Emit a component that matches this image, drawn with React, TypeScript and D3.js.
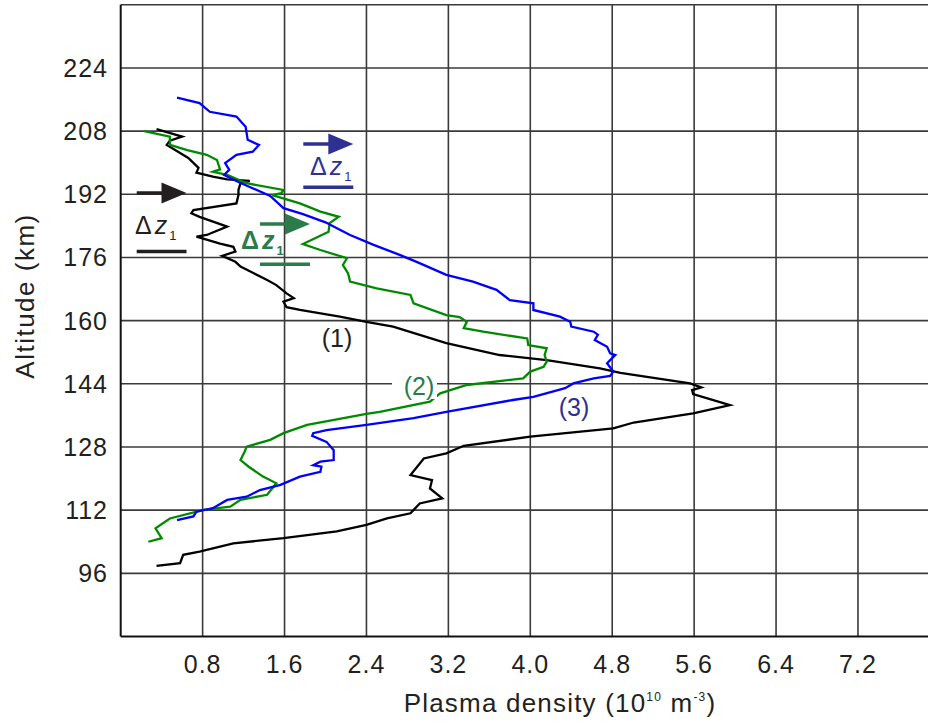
import React from "react";
import * as d3 from "d3";

// Altitude profiles of plasma density: [density (1e10 m^-3), altitude (km)]
const profile1: [number, number][] = [
  [0.35, 208.5], [0.6, 206.6], [0.48, 205.6], [0.45, 204.5], [0.66, 201.2], [0.76, 198.7],
  [0.74, 197.5], [0.9, 196.5], [1.04, 195.8], [1.26, 195.4], [1.17, 194.8], [1.15, 193.1],
  [1.15, 191.8], [1.13, 189.7], [0.71, 188.0], [0.69, 187.2], [0.77, 186.3], [1.04, 183.8],
  [0.84, 181.7], [0.74, 181.3], [0.97, 179.5], [1.1, 178.7], [1.12, 177.5], [0.99, 176.4],
  [1.12, 174.9], [1.17, 173.7], [1.3, 172.0], [1.43, 170.3], [1.52, 169.0], [1.62, 166.9],
  [1.69, 165.7], [1.59, 164.8], [1.62, 163.4], [1.75, 162.7], [2.14, 161.0], [2.4, 159.7],
  [2.66, 158.5], [3.18, 154.3], [3.7, 151.3], [4.16, 150.0], [4.68, 147.9], [4.88, 146.8],
  [5.56, 144.1], [5.67, 143.1], [5.58, 142.4], [5.59, 141.4], [5.95, 138.6], [5.59, 136.5],
  [5.01, 134.2], [4.81, 132.7], [4.0, 130.6], [3.35, 128.3], [3.18, 126.4], [2.96, 125.1],
  [2.83, 120.9], [3.04, 119.6], [3.02, 117.5], [3.14, 115.0], [2.92, 113.7], [2.83, 111.2],
  [2.6, 109.9], [2.4, 108.3], [2.11, 106.6], [1.59, 104.9], [1.1, 103.6], [0.77, 101.5],
  [0.61, 100.7], [0.58, 98.6], [0.35, 97.9],
];

const profile2: [number, number][] = [
  [0.23, 208.0], [0.48, 206.6], [0.48, 204.5], [0.65, 203.2], [0.84, 202.0], [0.94, 200.7],
  [0.97, 198.3], [0.9, 197.7], [1.04, 196.9], [1.23, 194.8], [1.59, 193.1], [1.57, 192.3],
  [1.48, 191.8], [1.75, 189.7], [1.95, 187.6], [2.13, 186.3], [2.04, 184.7], [2.03, 182.5],
  [1.78, 179.4], [1.95, 177.9], [2.21, 175.8], [2.17, 174.1], [2.22, 172.0], [2.24, 169.9],
  [2.5, 168.2], [2.83, 166.5], [2.86, 164.4], [3.18, 161.4], [3.31, 160.9], [3.38, 159.7],
  [3.35, 158.1], [3.54, 157.2], [3.97, 155.5], [3.98, 153.8], [4.16, 153.0], [4.14, 151.3],
  [4.16, 149.6], [4.13, 148.3], [4.0, 147.1], [3.93, 145.4], [3.38, 143.7], [3.12, 141.6],
  [3.02, 139.5], [2.53, 136.9], [2.4, 136.4], [1.82, 133.6], [1.59, 131.5], [1.46, 129.8],
  [1.23, 128.1], [1.21, 126.8], [1.17, 124.7], [1.25, 123.0], [1.39, 120.5], [1.52, 118.8],
  [1.43, 115.9], [1.17, 114.6], [1.07, 112.9], [0.81, 112.1], [0.48, 109.9], [0.34, 107.4],
  [0.4, 104.9], [0.27, 104.0],
];

const profile3: [number, number][] = [
  [0.55, 216.5], [0.77, 215.1], [0.87, 212.9], [1.13, 211.7], [1.22, 209.1], [1.24, 205.8],
  [1.35, 204.5], [1.29, 202.8], [1.13, 202.0], [1.02, 199.9], [1.06, 198.2], [1.01, 196.9],
  [1.15, 195.1], [1.46, 191.6], [1.59, 188.5], [1.78, 187.0], [2.0, 184.9], [2.14, 183.0],
  [2.24, 181.7], [2.47, 179.2], [2.73, 176.6], [2.89, 174.9], [3.18, 171.6], [3.44, 169.9],
  [3.67, 167.8], [3.8, 165.2], [4.03, 164.4], [4.03, 162.7], [4.29, 161.0], [4.39, 159.7],
  [4.4, 158.5], [4.62, 157.2], [4.66, 156.4], [4.63, 155.1], [4.75, 153.4], [4.78, 151.7],
  [4.83, 151.3], [4.78, 150.0], [4.75, 149.2], [4.81, 147.1], [4.78, 146.0], [4.62, 145.4],
  [4.42, 144.1], [4.34, 142.9], [4.03, 140.7], [3.83, 139.9], [3.18, 136.9], [2.86, 135.3],
  [2.4, 133.6], [2.01, 132.3], [1.88, 131.5], [1.87, 130.8], [2.01, 129.3], [2.08, 127.2],
  [2.08, 124.7], [1.95, 124.3], [1.88, 123.4], [1.96, 123.0], [1.95, 121.7], [1.75, 120.5],
  [1.56, 118.4], [1.36, 117.1], [1.23, 115.4], [1.04, 114.6], [0.9, 112.5], [0.74, 111.6],
  [0.71, 110.4], [0.55, 109.5],
];

const xTicks = [0.8, 1.6, 2.4, 3.2, 4.0, 4.8, 5.6, 6.4, 7.2, 8.0];
const yTicks = [96, 112, 128, 144, 160, 176, 192, 208, 224, 240];

const profileLabels = ["(1)", "(2)", "(3)"];

const W = 928;
const H = 725;
const FONT = "'Liberation Sans', Arial, Helvetica, sans-serif";

const INK = "#231f20";
const GREEN_INK = "#2b7b4b";
const BLUE_INK = "#2e3192";

export default function App() {
  const x = d3.scaleLinear().domain([0, 8]).range([120.7, 939.9]);
  const y = d3.scaleLinear().domain([80, 240]).range([636.5, 4.8]);

  const line = d3
    .line<[number, number]>()
    .x((d) => x(d[0]))
    .y((d) => y(d[1]));

  const series = [
    { data: profile1, color: "#000000" },
    { data: profile2, color: "#008a00" },
    { data: profile3, color: "#0000ff" },
  ];

  // Arrow with a filled triangular head pointing right
  const arrow = (x0: number, x1: number, yy: number, color: string) => (
    <g>
      <line x1={x0} x2={x1 - 20} y1={yy} y2={yy} stroke={color} strokeWidth={3.5} />
      <path d={`M${x1 - 25},${yy - 10.5} L${x1},${yy} L${x1 - 25},${yy + 10.5} Z`} fill={color} />
    </g>
  );

  // Δz₁ marker text
  const deltaZ = (x0: number, base: number, color: string, bold: boolean) => (
    <text
      x={x0}
      y={base}
      fill={color}
      fontFamily={FONT}
      fontSize={25}
      fontWeight={bold ? "bold" : "normal"}
    >
      Δ
      <tspan dx={3} fontStyle="italic">z</tspan>
      <tspan fontSize={13} dx={2} dy={6}>1</tspan>
    </text>
  );

  return (
    <svg
      width={W}
      height={H}
      style={{ position: "absolute", left: 0, top: 0, background: "#fff" }}
    >
      <rect x={0} y={0} width={W} height={H} fill="#fff" />

      {/* grid */}
      <g stroke="#3a3a3a" strokeWidth={1.6}>
        {xTicks.map((t) => (
          <line key={`gx${t}`} x1={x(t)} x2={x(t)} y1={y(240)} y2={y(80)} />
        ))}
        {yTicks.map((t) => (
          <line key={`gy${t}`} x1={x(0)} x2={x(8)} y1={y(t)} y2={y(t)} />
        ))}
      </g>

      {/* axes frame */}
      <line x1={x(0)} x2={x(0)} y1={y(240)} y2={y(80)} stroke="#111" strokeWidth={2} />
      <line x1={x(0)} x2={x(8)} y1={y(80)} y2={y(80)} stroke="#111" strokeWidth={2} />

      {/* y tick labels */}
      {yTicks
        .filter((t) => t <= 224)
        .map((t) => (
          <text
            key={`yl${t}`}
            x={108}
            y={y(t) + 9}
            textAnchor="end"
            fontFamily={FONT}
            fontSize={25}
            letterSpacing={1}
            fill={INK}
          >
            {t}
          </text>
        ))}

      {/* x tick labels */}
      {xTicks
        .filter((t) => t < 8)
        .map((t) => (
          <text
            key={`xl${t}`}
            x={x(t)}
            y={673}
            textAnchor="middle"
            fontFamily={FONT}
            fontSize={25}
            letterSpacing={1}
            fill={INK}
          >
            {t.toFixed(1)}
          </text>
        ))}

      {/* axis titles */}
      <text
        x={560}
        y={712}
        textAnchor="middle"
        fontFamily={FONT}
        fontSize={26}
        letterSpacing={1.2}
        fill={INK}
      >
        Plasma density (10
        <tspan fontSize={12} dy={-11}>10</tspan>
        <tspan dy={11}> m</tspan>
        <tspan fontSize={12} dy={-11}>-3</tspan>
        <tspan dy={11}>)</tspan>
      </text>
      <text
        transform={`translate(34,${296}) rotate(-90)`}
        textAnchor="middle"
        fontFamily={FONT}
        fontSize={26}
        letterSpacing={1.5}
        fill={INK}
      >
        Altitude (km)
      </text>

      {/* profiles */}
      {series.map((s, i) => (
        <path
          key={`p${i}`}
          d={line(s.data) ?? ""}
          fill="none"
          stroke={s.color}
          strokeWidth={2.3}
          strokeLinejoin="miter"
        />
      ))}

      {/* profile labels */}
      <text x={337} y={347} textAnchor="middle" fontFamily={FONT} fontSize={25} fill={INK}>
        {profileLabels[0]}
      </text>
      <rect x={392} y={372} width={45} height={27} fill="#fff" />
      <text x={419} y={395} textAnchor="middle" fontFamily={FONT} fontSize={25} fill={GREEN_INK}>
        {profileLabels[1]}
      </text>
      <text x={574} y={416} textAnchor="middle" fontFamily={FONT} fontSize={25} fill={BLUE_INK}>
        {profileLabels[2]}
      </text>

      {/* Δz₁ annotations */}
      {arrow(136.7, 186.5, 193, INK)}
      {deltaZ(135, 234, INK, false)}
      <line x1={136.7} x2={186.5} y1={251.5} y2={251.5} stroke={INK} strokeWidth={3.5} />

      {arrow(260, 310, 224, GREEN_INK)}
      {deltaZ(241, 249, GREEN_INK, true)}
      <line x1={260} x2={310} y1={264.3} y2={264.3} stroke={GREEN_INK} strokeWidth={3.5} />

      {arrow(303.3, 353.3, 144, BLUE_INK)}
      {deltaZ(310, 175, BLUE_INK, false)}
      <line x1={303.3} x2={353.3} y1={187.3} y2={187.3} stroke={BLUE_INK} strokeWidth={3.5} />
    </svg>
  );
}
